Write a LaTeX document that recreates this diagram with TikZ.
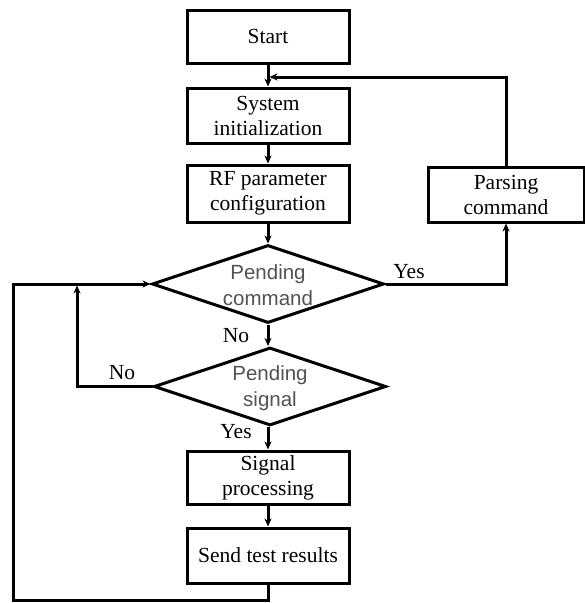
\documentclass[tikz,border=0pt]{standalone}
\usepackage{fontspec}
\setmainfont{Liberation Serif}
\newfontfamily\dsans{Liberation Sans}
\usetikzlibrary{arrows.meta,shapes.geometric}
\begin{document}
\begin{tikzpicture}[x=1pt,y=-1pt,
  line width=3pt,
  box/.style={draw,rectangle,minimum width=162pt,minimum height=55pt,inner sep=0pt,align=center,
    font=\fontsize{21.5}{25}\selectfont},
  dia/.style={draw,diamond,inner sep=0pt,minimum width=232pt,minimum height=78pt},
  dtext/.style={align=center,text=black!68,font=\dsans\fontsize{20.5}{26}\selectfont},
  lbl/.style={font=\fontsize{21.5}{25}\selectfont,inner sep=0pt},
  arr/.style={-{Stealth[length=8pt,width=7pt]}},
  ]
\useasboundingbox (0,0) rectangle (585,603);
\node[box,minimum height=53pt] (start) at (268,36.5) {Start};
\node[box] (sys) at (268,115.5) {System\\initialization};
\node[box,minimum height=57pt] (rf) at (268,193.5) {RF parameter\\configuration};
\node[dia] (d1) at (268,284) {};
\node[dtext] (t1) at (268,285) {Pending\\command};
\node[dia] (d2) at (270,386.5) {};
\node[dtext] (t2) at (270,388) {Pending\\signal};
\node[box,minimum height=53pt] (sig) at (268,477.5) {Signal\\processing};
\node[box] (send) at (268,555.5) {Send test results};
\node[box,minimum width=156pt] (parse) at (506,194.5) {Parsing\\command};

\coordinate (fb) at (269.5,77);
\coordinate (ob) at (13,600);
\coordinate (lj) at (77,285.5);

\draw[arr] (start.south) -- (sys.north);
\draw[arr] (sys.south) -- (rf.north);
\draw[arr] (rf.south) -- (d1.north);
\draw[arr] (d1.south) -- (d1.south |- d2.north);
\draw[arr] (d1.south |- d2.south) -- (sig.north);
\draw[arr] (sig.south) -- (send.north);
\draw[arr] (send.south) |- (ob) |- (d1.west);
\draw[arr] (d2.west) -| (lj);
\draw[arr] (d1.east) -| (parse.south);
\draw[arr] (parse.north) |- (fb);

\node[lbl] (yes1) at (409,272) {Yes};
\node[lbl] (no1) at (236,336) {No};
\node[lbl] (no2) at (122,373) {No};
\node[lbl] (yes2) at (236,432) {Yes};
\end{tikzpicture}
\end{document}
